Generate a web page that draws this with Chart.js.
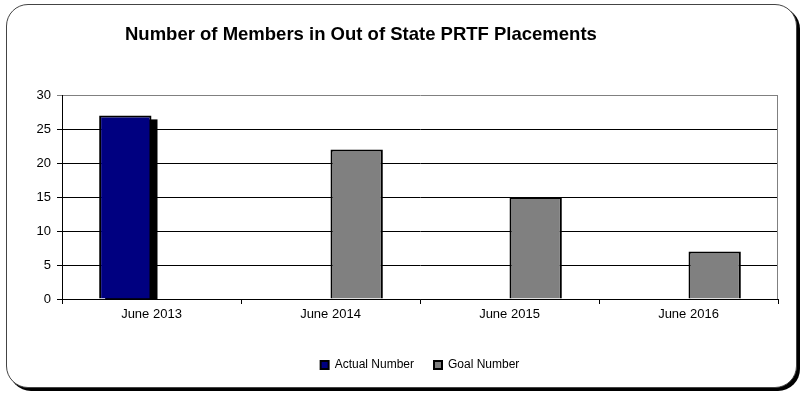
<!DOCTYPE html>
<html>
<head>
<meta charset="utf-8">
<script src="https://cdn.jsdelivr.net/npm/chart.js@4.4.1/dist/chart.umd.min.js"></script>
<style>
  html, body { margin: 0; padding: 0; background: #fff; }
  #frame {
    position: absolute; left: 6px; top: 4px; width: 789px; height: 382px;
    border: 1px solid #444; border-radius: 22px;
    box-shadow: 3px 3px 0 #000; background: #fff;
  }
  #wrap { position: absolute; left: 0; top: 0; width: 801px; height: 393px; }
</style>
</head>
<body>
<div id="frame"></div>
<div id="wrap"><canvas id="chart" width="801" height="393"></canvas></div>
<script>
const titleText = 'Number of Members in Out of State PRTF Placements';
const categories = ['June 2013', 'June 2014', 'June 2015', 'June 2016'];
const actualNumber = [27, null, null, null];
const goalNumber = [null, 22, 15, 7];
const yTicks = [0, 5, 10, 15, 20, 25, 30];

const FONT = 'Liberation Sans, Arial, sans-serif';

// draws the title at its place and the gray plot border
const framePlugin = {
    id: 'framePlugin',
    beforeDatasetsDraw(chart) {
        const { ctx, chartArea } = chart;
        ctx.save();
        ctx.strokeStyle = '#808080';
        ctx.lineWidth = 1;
        ctx.beginPath();
        ctx.moveTo(chartArea.right - 0.5, chartArea.top);
        ctx.lineTo(chartArea.right - 0.5, chartArea.bottom);
        ctx.stroke();
        ctx.restore();
    },
    afterDraw(chart) {
        const ctx = chart.ctx;
        ctx.save();
        ctx.font = 'bold 18.5px ' + FONT;
        ctx.fillStyle = '#000';
        ctx.textBaseline = 'middle';
        ctx.textAlign = 'left';
        ctx.fillText(titleText, 125, 35);
        ctx.restore();
    }
};

// black drop shadow behind the actual bar, taken from the bar elements
const shadowPlugin = {
    id: 'shadowPlugin',
    beforeDatasetDraw(chart, args) {
        if (args.index !== 0) return;
        const { ctx, chartArea } = chart;
        const meta = chart.getDatasetMeta(0);
        ctx.save();
        ctx.beginPath();
        ctx.rect(chartArea.left, chartArea.top, chartArea.right - chartArea.left, chartArea.bottom - chartArea.top);
        ctx.clip();
        ctx.fillStyle = '#000';
        meta.data.forEach((bar, i) => {
            if (actualNumber[i] == null) return;
            const p = bar.getProps(['x', 'y', 'width', 'base'], true);
            ctx.fillRect(p.x - p.width / 2 + 6, p.y + 4, p.width, p.base - p.y);
        });
        ctx.restore();
    }
};

new Chart(document.getElementById('chart'), {
    type: 'bar',
    data: {
        labels: categories,
        datasets: [{
            label: 'Actual Number',
            data: actualNumber,
            backgroundColor: '#000080',
            borderColor: '#000',
            borderWidth: 2,
            categoryPercentage: 0.585,
            barPercentage: 1
        }, {
            label: 'Goal Number',
            data: goalNumber,
            backgroundColor: '#808080',
            borderColor: '#000',
            borderWidth: 2,
            categoryPercentage: 0.585,
            barPercentage: 1
        }]
    },
    options: {
        responsive: false,
        animation: false,
        layout: { padding: { left: 20, right: 23, top: 95, bottom: 12 } },
        plugins: {
            title: { display: false },
            tooltip: { enabled: false },
            legend: {
                position: 'bottom',
                fullSize: false,
                labels: {
                    boxWidth: 8,
                    boxHeight: 8,
                    padding: 20,
                    color: '#000',
                    font: { family: FONT, size: 12 },
                    generateLabels(chart) {
                        return chart.data.datasets.map((ds, i) => ({
                            text: ds.label,
                            fillStyle: ds.backgroundColor,
                            strokeStyle: '#000',
                            lineWidth: 2,
                            datasetIndex: i
                        }));
                    }
                }
            }
        },
        scales: {
            x: {
                grid: {
                    offset: true,
                    drawOnChartArea: false,
                    drawTicks: true,
                    tickLength: 5,
                    color: '#000'
                },
                border: { color: '#000', width: 1 },
                ticks: {
                    color: '#000',
                    padding: 3,
                    font: { family: FONT, size: 13 }
                },
                afterFit(scale) { scale.height = 40; }
            },
            y: {
                min: 0,
                max: 30,
                afterBuildTicks(scale) { scale.ticks = yTicks.map(v => ({ value: v })); },
                grid: {
                    color: ctx => ctx.tick && ctx.tick.value === 30 ? '#808080' : '#000',
                    tickLength: 5,
                    drawTicks: true
                },
                border: { color: '#000', width: 1 },
                ticks: {
                    color: '#000',
                    padding: 6,
                    font: { family: FONT, size: 13 }
                },
                afterFit(scale) { scale.width = 42; }
            }
        }
    },
    plugins: [framePlugin, shadowPlugin]
});
</script>
</body>
</html>
